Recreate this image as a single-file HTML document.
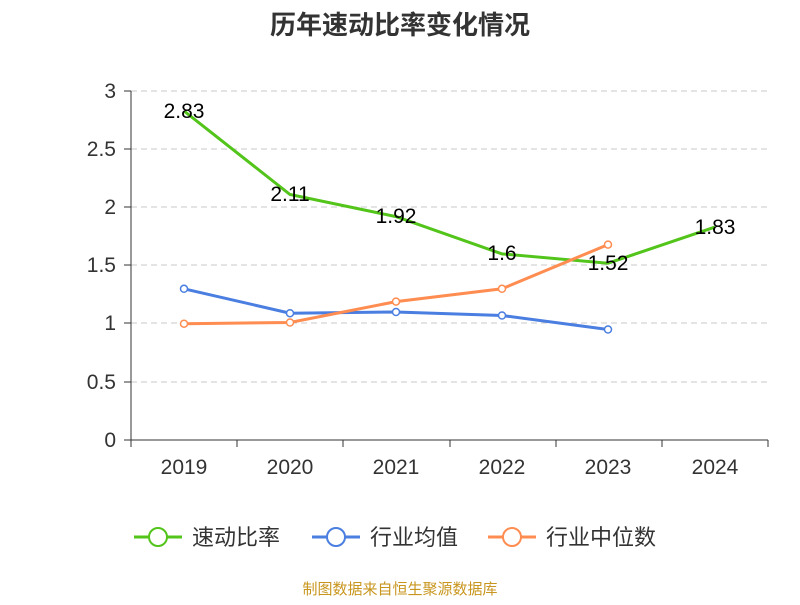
<!DOCTYPE html>
<html><head><meta charset="utf-8"><style>
body{margin:0;background:#fff;}
svg text{font-family:"Liberation Sans","Noto Sans CJK SC",sans-serif;}
</style></head><body>
<svg width="800" height="600" xmlns="http://www.w3.org/2000/svg">
<text x="400" y="34" text-anchor="middle" font-size="26" font-weight="bold" fill="#333">历年速动比率变化情况</text>
<g stroke="#c8c8c8" stroke-dasharray="6,4" stroke-width="1">
<line x1="131" y1="91" x2="768" y2="91"/><line x1="131" y1="149" x2="768" y2="149"/>
<line x1="131" y1="207" x2="768" y2="207"/><line x1="131" y1="265" x2="768" y2="265"/>
<line x1="131" y1="323" x2="768" y2="323"/><line x1="131" y1="382" x2="768" y2="382"/>
</g>
<g stroke="#333" stroke-width="1">
<line x1="131" y1="91" x2="131" y2="440"/><line x1="131" y1="440" x2="768" y2="440"/>
<line x1="124" y1="91" x2="131" y2="91"/><line x1="124" y1="149" x2="131" y2="149"/><line x1="124" y1="207" x2="131" y2="207"/><line x1="124" y1="265" x2="131" y2="265"/><line x1="124" y1="323" x2="131" y2="323"/><line x1="124" y1="382" x2="131" y2="382"/><line x1="124" y1="440" x2="131" y2="440"/>
<line x1="131" y1="440" x2="131" y2="447"/><line x1="237" y1="440" x2="237" y2="447"/><line x1="343" y1="440" x2="343" y2="447"/><line x1="450" y1="440" x2="450" y2="447"/><line x1="556" y1="440" x2="556" y2="447"/><line x1="662" y1="440" x2="662" y2="447"/><line x1="768" y1="440" x2="768" y2="447"/>
</g>
<g font-size="21" fill="#333" text-anchor="end">
<text x="116" y="98">3</text><text x="116" y="156">2.5</text><text x="116" y="214">2</text><text x="116" y="272">1.5</text><text x="116" y="330">1</text><text x="116" y="389">0.5</text><text x="116" y="447">0</text>
</g>
<g font-size="21" fill="#333" text-anchor="middle">
<text x="184" y="474">2019</text><text x="290" y="474">2020</text><text x="396" y="474">2021</text><text x="502" y="474">2022</text><text x="608" y="474">2023</text><text x="715" y="474">2024</text>
</g>
<polyline fill="none" stroke="#52c41a" stroke-width="3" points="184,111 290,194.5 396,216.6 502,253.9 608,263.2 715,227.1"/>
<polyline fill="none" stroke="#4a7ee0" stroke-width="3" points="184,288.8 290,313.2 396,312 502,315.5 608,329.5"/>
<polyline fill="none" stroke="#ff8c50" stroke-width="3" points="184,323.7 290,322.5 396,301.6 502,288.8 608,244.6"/>
<g fill="#fff" stroke="#4a7ee0" stroke-width="1.5">
<circle cx="184" cy="288.8" r="3.5"/><circle cx="290" cy="313.2" r="3.5"/><circle cx="396" cy="312" r="3.5"/><circle cx="502" cy="315.5" r="3.5"/><circle cx="608" cy="329.5" r="3.5"/>
</g>
<g fill="#fff" stroke="#ff8c50" stroke-width="1.5">
<circle cx="184" cy="323.7" r="3.5"/><circle cx="290" cy="322.5" r="3.5"/><circle cx="396" cy="301.6" r="3.5"/><circle cx="502" cy="288.8" r="3.5"/><circle cx="608" cy="244.6" r="3.5"/>
</g>
<g font-size="21" fill="#000" text-anchor="middle">
<text x="184" y="118">2.83</text><text x="290" y="201">2.11</text><text x="396" y="223">1.92</text><text x="502" y="260">1.6</text><text x="608" y="270">1.52</text><text x="715" y="234">1.83</text>
</g>
<g font-size="22" fill="#333">
<line x1="134" y1="537" x2="182" y2="537" stroke="#52c41a" stroke-width="3"/><circle cx="158" cy="537" r="9" fill="#fff" stroke="#52c41a" stroke-width="2"/>
<text x="192" y="545">速动比率</text>
<line x1="312" y1="537" x2="360" y2="537" stroke="#4a7ee0" stroke-width="3"/><circle cx="336" cy="537" r="9" fill="#fff" stroke="#4a7ee0" stroke-width="2"/>
<text x="370" y="545">行业均值</text>
<line x1="488" y1="537" x2="536" y2="537" stroke="#ff8c50" stroke-width="3"/><circle cx="512" cy="537" r="9" fill="#fff" stroke="#ff8c50" stroke-width="2"/>
<text x="546" y="545">行业中位数</text>
</g>
<text x="400" y="594" text-anchor="middle" font-size="15" fill="#c8961e">制图数据来自恒生聚源数据库</text>
</svg>
</body></html>
